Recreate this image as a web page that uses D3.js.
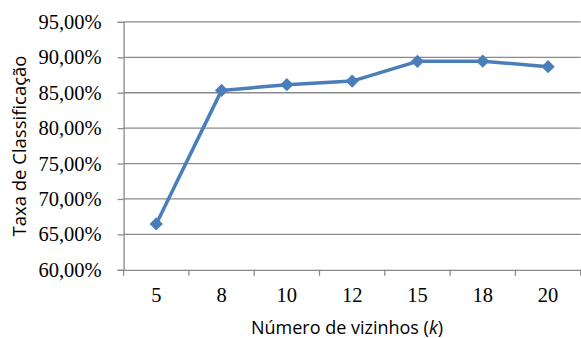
<!DOCTYPE html>
<html><head><meta charset="utf-8">
<script src="https://cdn.jsdelivr.net/npm/d3@7"></script>
<style>body{margin:0;background:#fff}svg{display:block}</style>
</head><body>
<svg id="c" width="581" height="338"></svg>
<script>
const categories = ["5","8","10","12","15","18","20"];
const values = [66.47, 85.33, 86.13, 86.64, 89.43, 89.45, 88.68];
const yTicks = [60,65,70,75,80,85,90,95];

const svg = d3.select("#c");
const L = 123.6, R = 580.7, T = 21.9, B = 269.8;
const x = d3.scaleBand().domain(categories).range([L, R]);
const y = d3.scaleLinear().domain([60,95]).range([B, T]);
const fmt = v => v.toFixed(2).replace(".", ",") + "%";

// grid
svg.append("g").selectAll("line").data(yTicks.filter(t=>t>60)).join("line")
  .attr("x1", L).attr("x2", R).attr("y1", d=>y(d)).attr("y2", d=>y(d))
  .attr("stroke", "#8a8a8a").attr("stroke-width", 1.3);

// y axis
const ya = svg.append("g").attr("transform", `translate(${L},0)`)
  .call(d3.axisLeft(y).tickValues(yTicks).tickFormat(fmt).tickSize(6).tickPadding(16));
ya.select(".domain").attr("stroke", "#8a8a8a").attr("stroke-width", 1.3);
ya.selectAll(".tick line").attr("stroke", "#8a8a8a").attr("stroke-width", 1.3);
ya.selectAll("text").attr("font-family", "Liberation Serif").attr("font-size", 20.5).attr("fill", "#000");

// x axis
const xa = svg.append("g").attr("transform", `translate(0,${B})`)
  .call(d3.axisBottom(x).tickSizeOuter(0).tickSize(0).tickPadding(18));
xa.select(".domain").attr("stroke", "#8a8a8a").attr("stroke-width", 1.3);
xa.selectAll("text").attr("font-family", "Liberation Serif").attr("font-size", 20.5).attr("fill", "#000");
// ticks at category boundaries
const bounds = categories.map(c => x(c)).concat([R]);
svg.append("g").selectAll("line").data(bounds).join("line")
  .attr("x1", d=>d).attr("x2", d=>d).attr("y1", B).attr("y2", B+6)
  .attr("stroke", "#8a8a8a").attr("stroke-width", 1.3);

// line
const cx = c => x(c) + x.bandwidth()/2;
svg.append("path").datum(values)
  .attr("fill", "none").attr("stroke", "#4a7ebb").attr("stroke-width", 3.5)
  .attr("stroke-linejoin", "round")
  .attr("d", d3.line().x((d,i)=>cx(categories[i])).y(d=>y(d)));

svg.append("g").selectAll("path").data(values).join("path")
  .attr("d", d3.symbol(d3.symbolSquare, 88)())
  .attr("transform", (d,i)=>`translate(${cx(categories[i])},${y(d)}) rotate(45)`)
  .attr("fill", "#4a7ebb");

// titles
const xt = svg.append("text").attr("x", 347).attr("y", 334)
  .attr("text-anchor", "middle").attr("font-family", "Open Sans").attr("font-size", 18).attr("fill", "#000");
xt.append("tspan").text("Número de vizinhos (");
xt.append("tspan").attr("font-style", "italic").text("k");
xt.append("tspan").text(")");

svg.append("text").attr("transform", `translate(25.5,146) rotate(-90)`)
  .attr("text-anchor", "middle").attr("font-family", "Open Sans").attr("font-size", 18.5).attr("fill", "#000")
  .text("Taxa de Classificação");
</script>
</body></html>
